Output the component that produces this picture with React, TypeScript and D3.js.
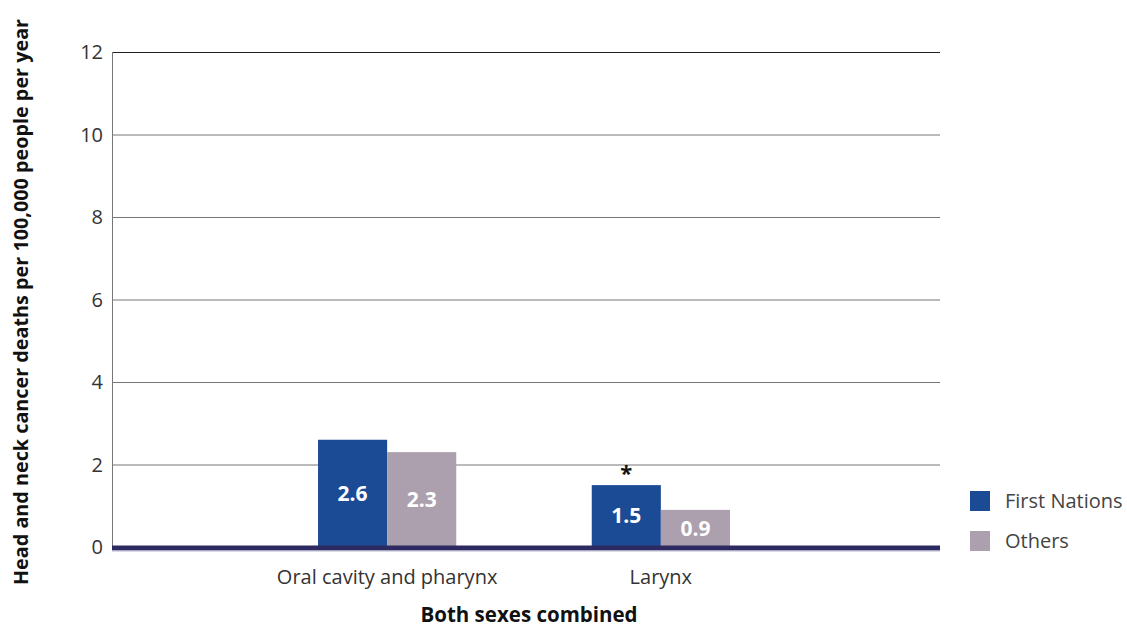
import { useEffect, useRef } from "react";
import * as d3 from "d3";

const categories = ["Oral cavity and pharynx", "Larynx"];
const seriesNames = ["First Nations", "Others"];
const firstNations = [2.6, 1.5];
const others = [2.3, 0.9];
const significant = [false, true];
const yTicks = [0, 2, 4, 6, 8, 10, 12];
const colors = ["#1c4b96", "#ada0ae"];

const width = 1127;
const height = 627;
const margin = { top: 52, right: 187, bottom: 80, left: 112 };

export default function App() {
  const svgRef = useRef(null);

  useEffect(() => {
    const svg = d3.select(svgRef.current);
    svg.selectAll("*").remove();
    const font = "'Open Sans', sans-serif";

    const x = d3
      .scaleBand()
      .domain(categories)
      .range([margin.left - 2, width - margin.right - 2])
      .paddingInner(0.495)
      .paddingOuter(0.76);
    const xInner = d3.scaleBand().domain(seriesNames).range([0, x.bandwidth()]);
    const y = d3
      .scaleLinear()
      .domain([0, 12])
      .range([height - margin.bottom, margin.top]);

    // Grid lines
    svg
      .append("g")
      .selectAll("line")
      .data(yTicks.filter((t) => t > 0))
      .join("line")
      .attr("x1", margin.left)
      .attr("x2", width - margin.right)
      .attr("y1", (d) => y(d) + 0.5)
      .attr("y2", (d) => y(d) + 0.5)
      .attr("stroke", (d) => (d === 12 ? "#222" : "#777"))
      .attr("stroke-width", 1);

    // Y axis line
    svg
      .append("line")
      .attr("x1", margin.left + 0.5)
      .attr("x2", margin.left + 0.5)
      .attr("y1", y(12))
      .attr("y2", y(0))
      .attr("stroke", "#777");

    // Y tick labels
    svg
      .append("g")
      .selectAll("text")
      .data(yTicks)
      .join("text")
      .attr("x", margin.left - 9)
      .attr("y", (d) => y(d))
      .attr("dy", "0.35em")
      .attr("text-anchor", "end")
      .attr("font-family", font)
      .attr("font-size", 20)
      .attr("fill", "#333")
      .text((d) => d);

    const rows = categories.map((c, i) => ({
      cat: c,
      values: [firstNations[i], others[i]],
      sig: significant[i],
    }));

    const groups = svg
      .append("g")
      .selectAll("g")
      .data(rows)
      .join("g")
      .attr("transform", (d) => `translate(${x(d.cat)},0)`);

    groups
      .selectAll("rect")
      .data((d) => d.values.map((v, j) => ({ v, s: seriesNames[j], j })))
      .join("rect")
      .attr("x", (d) => xInner(d.s) as number)
      .attr("width", xInner.bandwidth())
      .attr("y", (d) => y(d.v))
      .attr("height", (d) => y(0) - y(d.v))
      .attr("fill", (d) => colors[d.j]);

    groups
      .selectAll("text.val")
      .data((d) => d.values.map((v, j) => ({ v, s: seriesNames[j] })))
      .join("text")
      .attr("class", "val")
      .attr("x", (d) => (xInner(d.s) as number) + xInner.bandwidth() / 2)
      .attr("y", (d) => (y(d.v) + y(0)) / 2)
      .attr("dy", "0.35em")
      .attr("text-anchor", "middle")
      .attr("font-family", font)
      .attr("font-weight", "bold")
      .attr("font-size", 21)
      .attr("fill", "#fff")
      .text((d) => d.v.toFixed(1));

    // Significance asterisk
    groups
      .filter((d) => d.sig)
      .append("text")
      .attr("x", (xInner(seriesNames[0]) as number) + xInner.bandwidth() / 2)
      .attr("y", (d) => y(d.values[0]) - 4)
      .attr("text-anchor", "middle")
      .attr("font-family", font)
      .attr("font-weight", "bold")
      .attr("font-size", 22)
      .attr("fill", "#111")
      .text("*");

    // Baseline
    svg
      .append("line")
      .attr("x1", margin.left)
      .attr("x2", width - margin.right)
      .attr("y1", y(0) + 1)
      .attr("y2", y(0) + 1)
      .attr("stroke", "#2c2a60")
      .attr("stroke-width", 5);
    svg
      .append("line")
      .attr("x1", margin.left)
      .attr("x2", width - margin.right)
      .attr("y1", y(0) + 4)
      .attr("y2", y(0) + 4)
      .attr("stroke", "#b8b6d0")
      .attr("stroke-width", 1);

    // Category labels
    svg
      .append("g")
      .selectAll("text")
      .data(categories)
      .join("text")
      .attr("x", (d) => (x(d) as number) + x.bandwidth() / 2)
      .attr("y", y(0) + 37)
      .attr("text-anchor", "middle")
      .attr("font-family", font)
      .attr("font-size", 20)
      .attr("fill", "#333")
      .text((d) => d);

    // X title
    svg
      .append("text")
      .attr("x", 529)
      .attr("y", 622)
      .attr("text-anchor", "middle")
      .attr("font-family", font)
      .attr("font-weight", "bold")
      .attr("font-size", 20.5)
      .attr("fill", "#111")
      .text("Both sexes combined");

    // Y title
    svg
      .append("text")
      .attr("transform", `translate(28,${302}) rotate(-90)`)
      .attr("text-anchor", "middle")
      .attr("font-family", font)
      .attr("font-weight", "bold")
      .attr("font-size", 19.8)
      .attr("fill", "#111")
      .text("Head and neck cancer deaths per 100,000 people per year");

    // Legend
    const legend = svg
      .append("g")
      .selectAll("g")
      .data(seriesNames)
      .join("g")
      .attr("transform", (_d, i) => `translate(970,${491 + i * 40})`);
    legend
      .append("rect")
      .attr("width", 20)
      .attr("height", 20)
      .attr("fill", (_d, i) => colors[i]);
    legend
      .append("text")
      .attr("x", 35)
      .attr("y", 10)
      .attr("dy", "0.35em")
      .attr("font-family", font)
      .attr("font-size", 20)
      .attr("fill", "#444")
      .text((d) => d);
  }, []);

  return (
    <svg
      ref={svgRef}
      width={width}
      height={height}
      style={{ position: "absolute", left: 0, top: 0 }}
    />
  );
}
